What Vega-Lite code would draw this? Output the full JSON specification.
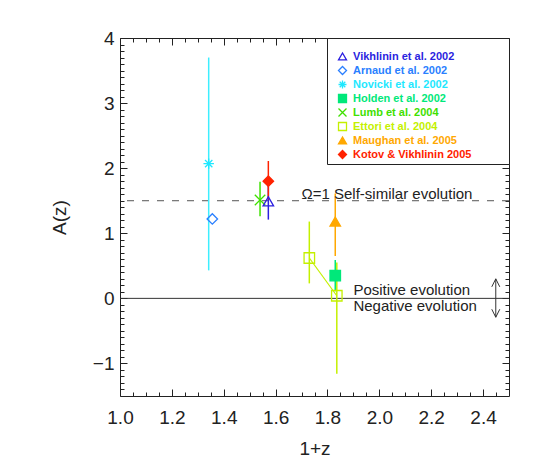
{
  "$schema": "https://vega.github.io/schema/vega-lite/v6.json",
  "autosize": "none",
  "width": 389,
  "height": 358,
  "padding": {"left": 120, "top": 38, "right": 36, "bottom": 76},
  "background": "white",
  "datasets": {
    "pts": [
      {"series": "Novicki et al. 2002", "x": 1.342, "y": 2.07, "lo": 0.43, "hi": 3.70},
      {"series": "Arnaud et al. 2002", "x": 1.356, "y": 1.22, "lo": null, "hi": null},
      {"series": "Lumb et al. 2004", "x": 1.540, "y": 1.51, "lo": 1.26, "hi": 1.79},
      {"series": "Vikhlinin et al. 2002", "x": 1.572, "y": 1.49, "lo": 1.21, "hi": 1.79},
      {"series": "Kotov & Vikhlinin 2005", "x": 1.572, "y": 1.80, "lo": 1.52, "hi": 2.11},
      {"series": "Maughan et al. 2005", "x": 1.830, "y": 1.18, "lo": 0.65, "hi": 1.61},
      {"series": "Holden et al. 2002", "x": 1.830, "y": 0.35, "lo": 0.11, "hi": 0.59},
      {"series": "Ettori et al. 2004", "x": 1.730, "y": 0.62, "lo": 0.23, "hi": 1.18},
      {"series": "Ettori et al. 2004", "x": 1.836, "y": 0.04, "lo": -1.16, "hi": 0.55}
    ],
    "arrow": [{"x": 2.449, "lo": -0.29, "hi": 0.30}]
  },
  "config": {
    "font": "Liberation Sans",
    "view": {"stroke": "#222", "strokeWidth": 1},
    "axis": {"labelFont": "Liberation Sans", "titleFont": "Liberation Sans", "labelColor": "#222", "titleColor": "#222", "domain": false, "ticks": false,
      "gridColor": "#222", "gridOpacity": 1, "gridWidth": 1},
    "legend": {
      "orient": "none", "legendX": 207, "legendY": 0,
      "padding": 4, "fillColor": "white", "strokeColor": "#222",
      "titleFontSize": 6, "titlePadding": 3, "titleLimit": 400, "titleOpacity": 0, "titleFont": "DejaVu Sans",
      "symbolSize": 64, "symbolStrokeWidth": 1.3, "symbolOffset": 6, "labelOffset": 5,
      "labelFontSize": 11, "labelFontWeight": "bold", "labelFont": "Liberation Sans",
      "clipHeight": 11, "rowPadding": 2,
      "labelColor": {"expr": "scale('stroke', datum.value)"},
      "symbolStrokeColor": {"expr": "scale('stroke', datum.value)"},
      "symbolFillColor": {"expr": "scale('fill', datum.value)"},
      "symbolType": {"expr": "scale('shape', datum.value)"},
      "symbolOpacity": 1
    }
  },
  "resolve": {"axis": {"x": "independent", "y": "independent"}},
  "layer": [
    {
      "data": {"values": [{"y": 1.5}]},
      "mark": {"type": "rule", "color": "#555", "strokeWidth": 1, "strokeDash": [7, 8]},
      "encoding": {"y": {"field": "y", "type": "quantitative", "scale": {"domain": [-1.5, 4], "nice": false, "zero": false}, "axis": null}}
    },
    {
      "data": {"values": [{"y": 0}]},
      "mark": {"type": "rule", "color": "#333", "strokeWidth": 1},
      "encoding": {"y": {"field": "y", "type": "quantitative", "scale": {"domain": [-1.5, 4], "nice": false, "zero": false}, "axis": null}}
    },
    {
      "data": {"name": "pts"},
      "transform": [{"filter": "datum.series === 'Ettori et al. 2004'"}],
      "mark": {"type": "line", "color": "#c4f000", "strokeWidth": 1.2},
      "encoding": {
        "x": {"field": "x", "type": "quantitative", "scale": {"domain": [1, 2.5], "nice": false, "zero": false}, "axis": null},
        "y": {"field": "y", "type": "quantitative", "scale": {"domain": [-1.5, 4], "nice": false, "zero": false}, "axis": null}
      }
    },
    {
      "data": {"name": "pts"},
      "transform": [{"filter": "datum.lo != null"}],
      "mark": {"type": "rule", "strokeWidth": 1.5},
      "encoding": {
        "x": {"field": "x", "type": "quantitative", "scale": {"domain": [1, 2.5], "nice": false, "zero": false}, "axis": null},
        "y": {"field": "lo", "type": "quantitative", "scale": {"domain": [-1.5, 4], "nice": false, "zero": false}, "axis": null},
        "y2": {"field": "hi"},
        "color": {"field": "series", "type": "nominal", "legend": null,
          "scale": {"domain": ["Vikhlinin et al. 2002", "Novicki et al. 2002", "Holden et al. 2002", "Lumb et al. 2004", "Ettori et al. 2004", "Maughan et al. 2005", "Kotov & Vikhlinin 2005"],
            "range": ["#2b1fe0", "#3ceeff", "#00e87a", "#3fe000", "#c4f000", "#ffa800", "#ff2200"]}}
      }
    },
    {
      "data": {"name": "pts"},
      "mark": {"type": "point", "size": 110, "strokeWidth": 1.3, "opacity": 1},
      "encoding": {
        "x": {"field": "x", "type": "quantitative", "scale": {"domain": [1, 2.5], "nice": false, "zero": false},
          "axis": {"orient": "bottom", "title": "1+z", "titleFontSize": 19, "titleFontWeight": "normal", "titlePadding": 12,
            "labelFontSize": 19, "labelPadding": 12, "labelOverlap": false, "labelFlush": false,
            "grid": true, "gridDash": [7, 344],
            "values": [1,1.2,1.4,1.6,1.8,2,2.2,2.4],
            "labelExpr": "format(datum.value,'.1f')"}},
        "y": {"field": "y", "type": "quantitative", "scale": {"domain": [-1.5, 4], "nice": false, "zero": false},
          "axis": {"orient": "left", "title": "A(z)", "titleFontSize": 19, "titleFontWeight": "normal", "titlePadding": 23,
            "labelFontSize": 19, "labelPadding": 6, "labelOverlap": false, "labelFlush": false,
            "grid": true, "gridDash": [7, 375],
            "values": [-1,0,1,2,3,4],
            "labelExpr": "datum.value < -0.5 ? '\u2212' + format(abs(datum.value),'.0f') : format(datum.value,'.0f')"}},
        "stroke": {"field": "series", "type": "nominal",
          "scale": {"domain": ["Vikhlinin et al. 2002", "Arnaud et al. 2002", "Novicki et al. 2002", "Holden et al. 2002", "Lumb et al. 2004", "Ettori et al. 2004", "Maughan et al. 2005", "Kotov & Vikhlinin 2005"],
            "range": ["#2b1fe0", "#2a7fff", "#1ee8ff", "#00e87a", "#3fe000", "#c4f000", "#ffa800", "#ff2200"]},
          "legend": {"title": "\u2800\u2800\u2800\u2800\u2800\u2800\u2800\u2800\u2800\u2800\u2800\u2800\u2800\u2800\u2800\u2800\u2800\u2800\u2800\u2800\u2800\u2800\u2800\u2800\u2800\u2800\u2800\u2800\u2800\u2800\u2800\u2800\u2800\u2800\u2800\u2800\u2800"}},
        "fill": {"field": "series", "type": "nominal",
          "scale": {"domain": ["Vikhlinin et al. 2002", "Arnaud et al. 2002", "Novicki et al. 2002", "Holden et al. 2002", "Lumb et al. 2004", "Ettori et al. 2004", "Maughan et al. 2005", "Kotov & Vikhlinin 2005"],
            "range": ["transparent", "transparent", "transparent", "#00e87a", "transparent", "transparent", "#ffa800", "#ff2200"]},
          "legend": {"title": "\u2800\u2800\u2800\u2800\u2800\u2800\u2800\u2800\u2800\u2800\u2800\u2800\u2800\u2800\u2800\u2800\u2800\u2800\u2800\u2800\u2800\u2800\u2800\u2800\u2800\u2800\u2800\u2800\u2800\u2800\u2800\u2800\u2800\u2800\u2800\u2800\u2800"}},
        "shape": {"field": "series", "type": "nominal",
          "scale": {"domain": ["Vikhlinin et al. 2002", "Arnaud et al. 2002", "Novicki et al. 2002", "Holden et al. 2002", "Lumb et al. 2004", "Ettori et al. 2004", "Maughan et al. 2005", "Kotov & Vikhlinin 2005"],
            "range": ["triangle-up", "diamond", "M-1,0L1,0M0,-1L0,1M-0.7,-0.7L0.7,0.7M-0.7,0.7L0.7,-0.7", "square", "M-1,-1L1,1M-1,1L1,-1", "square", "triangle-up", "diamond"]},
          "legend": {"title": "\u2800\u2800\u2800\u2800\u2800\u2800\u2800\u2800\u2800\u2800\u2800\u2800\u2800\u2800\u2800\u2800\u2800\u2800\u2800\u2800\u2800\u2800\u2800\u2800\u2800\u2800\u2800\u2800\u2800\u2800\u2800\u2800\u2800\u2800\u2800\u2800\u2800"}}
      }
    },
    {
      "data": {"values": [
        {"x": 1.700, "y": 1.61, "label": "Ω=1 Self-similar evolution"},
        {"x": 1.900, "y": 0.13, "label": "Positive evolution"},
        {"x": 1.900, "y": -0.12, "label": "Negative evolution"}
      ]},
      "mark": {"type": "text", "align": "left", "baseline": "middle", "fontSize": 15, "font": "Liberation Sans", "color": "#222"},
      "encoding": {
        "x": {"field": "x", "type": "quantitative", "scale": {"domain": [1, 2.5], "nice": false, "zero": false},
          "axis": {"orient": "top", "labels": false, "title": null, "grid": true, "gridDash": [4, 350],
            "values": [1.05,1.1,1.15,1.25,1.3,1.35,1.45,1.5,1.55,1.65,1.7,1.75,1.85,1.9,1.95,2.05,2.1,2.15,2.25,2.3,2.35,2.45]}},
        "y": {"field": "y", "type": "quantitative", "scale": {"domain": [-1.5, 4], "nice": false, "zero": false},
          "axis": {"orient": "right", "labels": false, "title": null, "grid": true, "gridDash": [4, 381],
            "values": [-1.4,-1.3,-1.2,-1.1,-0.9,-0.8,-0.7,-0.6,-0.5,-0.4,-0.3,-0.2,-0.1,0.1,0.2,0.3,0.4,0.5,0.6,0.7,0.8,0.9,1.1,1.2,1.3,1.4,1.5,1.6,1.7,1.8,1.9,2.1,2.2,2.3,2.4,2.5,2.6,2.7,2.8,2.9,3.1,3.2,3.3,3.4,3.5,3.6,3.7,3.8,3.9]}},
        "text": {"field": "label", "type": "nominal"}
      }
    },
    {
      "data": {"name": "arrow"},
      "mark": {"type": "rule", "color": "#333", "strokeWidth": 1},
      "encoding": {
        "x": {"field": "x", "type": "quantitative", "scale": {"domain": [1, 2.5], "nice": false, "zero": false}, "axis": null},
        "y": {"field": "lo", "type": "quantitative", "scale": {"domain": [-1.5, 4], "nice": false, "zero": false}, "axis": null},
        "y2": {"field": "hi"}
      }
    },
    {
      "data": {"name": "arrow"},
      "mark": {"type": "point", "shape": "M-0.5,1L0,0L0.5,1", "size": 256, "filled": false, "color": "#333", "strokeWidth": 1, "opacity": 1},
      "encoding": {
        "x": {"field": "x", "type": "quantitative", "scale": {"domain": [1, 2.5], "nice": false, "zero": false}, "axis": null},
        "y": {"field": "hi", "type": "quantitative", "scale": {"domain": [-1.5, 4], "nice": false, "zero": false}, "axis": null}
      }
    },
    {
      "data": {"name": "arrow"},
      "mark": {"type": "point", "shape": "M-0.5,-1L0,0L0.5,-1", "size": 256, "filled": false, "color": "#333", "strokeWidth": 1, "opacity": 1},
      "encoding": {
        "x": {"field": "x", "type": "quantitative", "scale": {"domain": [1, 2.5], "nice": false, "zero": false}, "axis": null},
        "y": {"field": "lo", "type": "quantitative", "scale": {"domain": [-1.5, 4], "nice": false, "zero": false}, "axis": null}
      }
    }
  ]
}
